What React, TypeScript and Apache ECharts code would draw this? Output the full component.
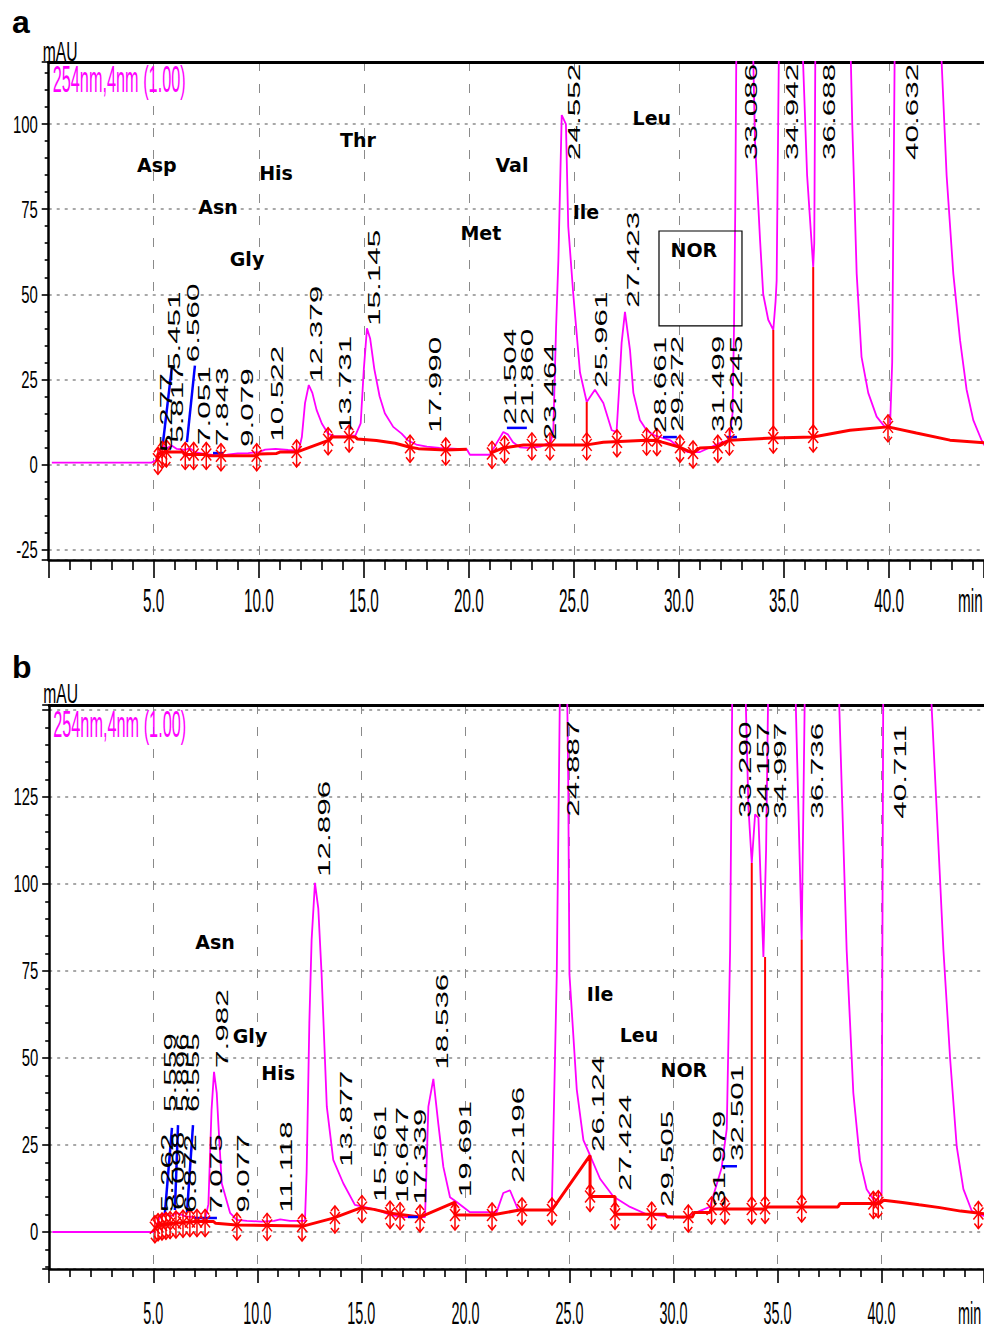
import React, { useEffect, useRef } from "react";
import * as echarts from "echarts";

type Pt = [number, number];

// ---------- Panel a ----------
const TRACE_A: Pt[] = [
  [0.15, 0.5], [4.9, 0.5], [5.1, 1.2], [5.25, 3.5], [5.45, 5.5], [5.6, 4.6], [5.85, 5.5], [6.1, 4.5], [6.5, 4.2], [6.7, 4.8],
  [7.0, 3.5], [7.5, 3.0], [8.0, 2.6], [8.5, 2.8], [9.0, 3.2], [9.5, 3.3], [10.0, 3.6], [10.3, 4.3], [10.8, 4.5], [11.4, 4.2],
  [11.9, 4.0], [12.05, 8], [12.2, 18], [12.38, 23.3], [12.55, 21], [12.75, 16], [13.0, 12], [13.3, 9], [13.6, 8.2], [14.2, 8.3],
  [14.6, 8.5], [14.85, 12], [15.0, 28], [15.15, 40], [15.3, 37], [15.5, 28], [15.75, 20], [16.0, 15], [16.4, 11], [16.8, 9],
  [17.1, 7], [17.5, 5.8], [18.0, 5.2], [18.6, 4.8], [19.9, 4.4], [20.05, 2.8], [21.0, 2.8], [21.3, 6], [21.64, 9.5], [21.85, 8.8],
  [22.1, 6.5], [22.43, 5], [22.8, 4.8], [23.4, 5.2], [23.9, 6.5], [24.02, 10], [24.15, 40], [24.26, 60], [24.42, 102.7], [24.62, 100],
  [24.73, 70], [24.97, 50], [25.29, 27], [25.61, 18.3], [26.0, 21.9], [26.4, 18], [26.8, 10], [27.03, 9.5], [27.15, 22], [27.27, 35.7],
  [27.43, 44.8], [27.67, 33.6], [27.83, 21], [28.14, 13], [28.46, 10], [28.8, 8.6], [29.2, 7.8], [29.6, 7], [30.0, 5], [30.4, 3.6],
  [31.0, 3.6], [31.5, 5], [31.95, 6.2], [32.4, 7.2], [32.55, 15], [32.62, 40], [32.68, 75], [32.74, 130], [33.5, 130], [33.62, 95],
  [33.86, 66], [34.01, 50], [34.25, 42.5], [34.49, 39.5], [34.6, 48], [34.65, 54], [34.77, 130], [35.84, 130], [36.1, 85], [36.39, 58],
  [36.44, 65], [36.5, 130], [38.14, 130], [38.25, 100], [38.46, 56], [38.69, 31.6], [39.01, 21], [39.41, 14], [39.8, 11], [40.05, 11.5],
  [40.15, 30], [40.28, 130], [42.42, 130], [42.74, 85], [43.06, 56], [43.38, 36.5], [43.69, 22], [44.01, 13], [44.41, 7], [44.6, 5], [45, 4],
];
const BASE_A1: Pt[] = [
  [5.15, 1.0], [5.2, 3.0], [5.5, 3.6], [6.4, 3.6], [6.45, 2.9], [7.5, 2.9], [7.6, 2.5], [9.9, 2.5], [10.0, 3.0], [10.85, 3.2],
  [11.0, 3.6], [11.8, 3.6], [13.38, 7.2], [13.5, 8.0], [14.6, 8.0], [14.7, 7.4], [15.6, 7.0], [16.5, 6.2], [17.2, 5.0], [17.6, 4.6],
  [18.9, 4.2], [19.9, 4.4],
];
const BASE_A2: Pt[] = [
  [21.0, 3.2], [21.64, 4.8], [22.6, 5.7], [25.61, 5.7], [26.4, 6.5], [28.46, 7.1], [28.95, 7.0], [29.2, 6.5], [30.05, 5.0], [30.67, 3.3],
  [31.0, 4.8], [31.8, 5.0], [32.4, 7.1], [34.49, 7.7], [36.39, 8.0], [38.14, 10], [39.95, 11.0], [41.3, 9.2], [42.9, 7.1], [44.6, 6.3], [45, 6.1],
];
const MARKERS_A: Pt[] = [
  [5.2, 1.5], [5.4, 3.2], [5.6, 3.6], [6.5, 2.9], [6.9, 2.9], [7.5, 2.9], [8.2, 2.5], [9.9, 2.5], [11.8, 3.6], [13.3, 7.2],
  [14.3, 8.0], [17.2, 5.0], [18.9, 4.2], [21.1, 3.2], [21.7, 4.8], [23.0, 5.7], [23.86, 5.7], [25.61, 5.7], [27.05, 6.6], [28.46, 7.1],
  [28.95, 7.0], [30.05, 5.0], [30.67, 3.3], [31.85, 5.0], [32.4, 7.1], [34.49, 7.7], [36.39, 8.0], [39.95, 11.0],
];
const DROPS_A: [number, number, number][] = [[25.61, 5.7, 18.3], [34.49, 7.7, 39.5], [36.39, 8.0, 58]];
const BLUE_A: Pt[][] = [
  [[5.44, 6.3], [5.87, 29]], [[6.58, 6.5], [6.96, 29]], [[7.82, 3.3], [8.3, 3.3]],
  [[21.81, 10.7], [22.76, 10.7]], [[29.24, 8], [29.9, 8]], [[32.28, 8], [32.76, 8]],
];
const PEAKS_A: [string, number, number][] = [
  ["5.277", 5.58, 3.6], ["5.451", 5.96, 27.7], ["5.817", 6.11, 6.3], ["6.560", 6.87, 30], ["7.051", 7.39, 5.7],
  ["7.843", 8.25, 5.4], ["9.079", 9.44, 5.1], ["10.522", 10.87, 6.6], ["12.379", 12.72, 24.2], ["13.731", 14.1, 9.5],
  ["15.145", 15.48, 40.7], ["17.990", 18.39, 9.2], ["21.504", 21.96, 11.6], ["21.860", 22.77, 11.6], ["23.464", 23.86, 7.1],
  ["24.552", 25.0, 89.5], ["25.961", 26.29, 22.5], ["27.423", 27.81, 46], ["28.661", 29.1, 9.2], ["29.272", 29.9, 9.5],
  ["31.499", 31.86, 9.5], ["32.245", 32.71, 9.5], ["33.086", 33.43, 89.5], ["34.942", 35.38, 89.5], ["36.688", 37.14, 89.5],
  ["40.632", 41.09, 89.5],
];
const AMINO_A: [string, number, number][] = [
  ["Asp", 5.15, 88], ["Asn", 8.06, 75.7], ["Gly", 9.44, 60.4], ["His", 10.82, 85.7], ["Thr", 14.72, 95.4],
  ["Met", 20.57, 68], ["Val", 22.05, 88], ["Ile", 25.57, 74.2], ["Leu", 28.71, 101.9], ["NOR", 30.71, 63],
];
const NOR_BOX_A = [29.05, 68.6, 33.0, 40.7];

// ---------- Panel b ----------
const TRACE_B: Pt[] = [
  [0.15, 0], [5.0, 0], [5.1, 1], [5.3, 4], [5.55, 5.5], [5.85, 4.5], [6.15, 5.5], [6.55, 4.5], [7.0, 4.2], [7.5, 3.8],
  [7.65, 8], [7.8, 35], [7.92, 46], [8.05, 40], [8.13, 31], [8.29, 14], [8.69, 5.5], [9.01, 3.5], [9.5, 3.2], [10.2, 3.0],
  [10.8, 3.2], [11.1, 3.6], [11.57, 3.2], [12.29, 3.2], [12.37, 17], [12.5, 60], [12.61, 84], [12.77, 100.3], [12.93, 93], [13.09, 74],
  [13.34, 36], [13.65, 20.7], [14.13, 14], [14.69, 7.8], [15.81, 6.3], [16.38, 4.9], [17.0, 4.3], [18.06, 4.3], [18.22, 36], [18.46, 44],
  [18.7, 31], [18.94, 18.7], [19.26, 10], [19.58, 8.6], [20.22, 5.7], [21.5, 5.7], [21.82, 11.2], [22.14, 12], [22.54, 6.3], [24.15, 6.3],
  [24.39, 74], [24.55, 160], [24.88, 160], [24.94, 130], [25.0, 74], [25.35, 41], [25.67, 26.4], [25.99, 22], [26.47, 15.3], [27.11, 10.2],
  [27.91, 7.2], [28.71, 5.1], [29.67, 4.6], [30.47, 4.1], [30.95, 5.3], [31.75, 7.2], [32.31, 18.4], [32.56, 29.7], [32.72, 81], [32.83, 160],
  [33.44, 160], [33.6, 122], [33.76, 106], [33.92, 120], [34.08, 119], [34.32, 79], [34.45, 110], [34.56, 160], [35.84, 160], [36.16, 84],
  [36.32, 160], [37.92, 160], [38.32, 81], [38.64, 40], [38.96, 20.5], [39.28, 12.3], [39.68, 8.7], [40.0, 11], [40.08, 160], [42.33, 160],
  [42.73, 111], [42.97, 81], [43.29, 50], [43.61, 24.5], [43.93, 12.3], [44.33, 6.1], [44.65, 5], [45, 4.5],
];
const BASE_B: Pt[] = [
  [5.05, 1.0], [5.3, 2.0], [6.0, 2.5], [7.0, 3.0], [7.9, 3.0], [8.0, 2.5], [9.0, 2.0], [12.2, 1.7], [13.65, 4.0], [15.0, 7.0],
  [15.6, 6.5], [16.4, 5.4], [17.82, 4.3], [19.5, 8.6], [19.5, 4.9], [21.28, 4.9], [22.6, 6.3], [24.15, 6.3], [25.99, 22], [25.99, 10.2],
  [27.19, 10.2], [27.19, 5.1], [29.6, 5.1], [29.7, 4.3], [30.9, 4.3], [31.0, 5.6], [31.75, 5.6], [31.8, 6.6], [34.4, 6.6], [34.5, 7.2],
  [37.9, 7.2], [38.0, 8.2], [39.9, 8.2], [40.1, 9.1], [41.0, 8.5], [41.8, 7.8], [42.8, 7.0], [43.8, 6.0], [45, 5.2],
];
const MARKERS_B: Pt[] = [
  [5.08, 1.2], [5.23, 1.8], [5.42, 2.0], [5.61, 2.2], [5.81, 2.4], [6.09, 2.6], [6.43, 2.8], [6.76, 3.0], [7.1, 3.0], [7.49, 3.0],
  [9.02, 2.0], [10.47, 1.9], [12.15, 1.7], [13.73, 4.0], [15.03, 7.0], [16.38, 5.4], [16.86, 5.0], [17.82, 4.3], [19.5, 4.9], [21.28, 4.9],
  [22.72, 6.3], [24.16, 6.3], [25.99, 10.2], [27.19, 5.1], [28.95, 5.1], [30.71, 4.3], [31.83, 6.6], [32.47, 6.6], [33.76, 6.6], [34.4, 6.8],
  [36.16, 7.2], [39.6, 8.2], [39.84, 8.4], [44.65, 5.3],
];
const DROPS_B: [number, number, number][] = [[33.76, 6.6, 106], [34.4, 6.8, 79], [36.16, 7.2, 84]];
const BLUE_B: Pt[][] = [
  [[5.56, 5.5], [5.9, 29.9]], [[6.04, 6.3], [6.19, 30.7]], [[6.62, 5.5], [6.91, 30.7]],
  [[7.0, 4.0], [8.06, 4.0]], [[17.24, 4.3], [17.72, 4.3]], [[32.33, 18.9], [33.05, 18.9]],
];
const PEAKS_B: [string, number, number][] = [
  ["5.262", 5.66, 5.7], ["5.559", 5.81, 34.5], ["5.896", 6.38, 34.5], ["6.098", 6.19, 6.3], ["6.555", 6.91, 34.5],
  ["6.872", 6.77, 5.5], ["7.075", 8.02, 5.5], ["7.982", 8.3, 47.1], ["9.077", 9.31, 5.5], ["11.118", 11.38, 5.5],
  ["12.896", 13.2, 102], ["13.877", 14.26, 18.7], ["15.561", 15.9, 8.6], ["16.647", 16.95, 8.3], ["17.339", 17.82, 7.8],
  ["18.536", 18.88, 46.6], ["19.691", 19.98, 10], ["22.196", 22.53, 14.1], ["24.887", 25.17, 119.3], ["26.124", 26.37, 23],
  ["27.424", 27.67, 11.8], ["29.505", 29.69, 7.2], ["31.979", 32.19, 7.2], ["32.501", 33.05, 20.4], ["33.290", 33.44, 119],
  ["34.157", 34.3, 118.7], ["34.997", 35.12, 118.7], ["36.736", 36.9, 118.7], ["40.711", 40.88, 118.7],
];
const AMINO_B: [string, number, number][] = [
  ["Asn", 7.97, 83.3], ["Gly", 9.65, 56.3], ["His", 11.0, 45.7], ["Ile", 26.47, 68.4], ["Leu", 28.34, 56.6], ["NOR", 30.5, 46.6],
];

// ---------- axes ----------
const X_TICKS = [5, 10, 15, 20, 25, 30, 35, 40];
const X_RANGE_A = [0, 44.52];
const X_RANGE_B = [0, 44.92];
const Y_TICKS_A = [-25, 0, 25, 50, 75, 100];
const Y_TICKS_B = [0, 25, 50, 75, 100, 125];
const Y_RANGE_A = [-28.15, 118.3];
const Y_RANGE_B = [-10.63, 151.4];

const MAGENTA = "#ff00ff";
const RED = "#ff0000";
const BLUE = "#0000ff";
const NUM_FONT = "'Liberation Sans', Arial, sans-serif";

function xAxes(gi: number, range: number[], majorLen: number, minorLen: number) {
  const base = { type: "value", gridIndex: gi, min: range[0], max: range[1], minInterval: 5, maxInterval: 5, splitNumber: 9 };
  return [
    {
      ...base, position: "bottom",
      axisLine: { show: true, onZero: false, lineStyle: { color: "#000", width: 2.5 } },
      axisTick: { show: true, length: majorLen, lineStyle: { color: "#000", width: 1.6 } },
      minorTick: { show: true, splitNumber: 5, length: minorLen, lineStyle: { color: "#000", width: 1.6 } },
      axisLabel: { show: false },
      splitLine: { show: true, lineStyle: { color: "#8a8a8a", width: 1, type: [9, 13] } },
      minorSplitLine: { show: false },
    },
    {
      ...base, position: "top",
      axisLine: { show: true, onZero: false, lineStyle: { color: "#000", width: 3 } },
      axisTick: { show: false }, axisLabel: { show: false }, splitLine: { show: false },
    },
  ];
}
function yAxis(gi: number, range: number[]) {
  return {
    type: "value", gridIndex: gi, min: range[0], max: range[1], minInterval: 25, maxInterval: 25, splitNumber: 6,
    axisLine: { show: true, onZero: false, lineStyle: { color: "#000", width: 2.5 } },
    axisTick: { show: true, length: 7, lineStyle: { color: "#000", width: 1.6 } },
    minorTick: { show: true, splitNumber: 5, length: 4, lineStyle: { color: "#000", width: 1.6 } },
    axisLabel: { show: false },
    splitLine: { show: true, lineStyle: { color: "#a8a8a8", width: 2, type: [3, 5] } },
  };
}
function line(gi: number, data: Pt[], color: string, width: number, z: number) {
  return {
    type: "line", xAxisIndex: gi * 2, yAxisIndex: gi, data, symbol: "none", showSymbol: false,
    lineStyle: { color, width }, z, silent: true, clip: true,
  };
}
function markerSeries(gi: number, marks: Pt[]) {
  return {
    type: "custom", xAxisIndex: gi * 2, yAxisIndex: gi, data: marks, z: 5, silent: true,
    encode: { x: 0, y: 1 },
    renderItem: (_p: any, api: any) => {
      const [x, y] = api.coord([api.value(0), api.value(1)]);
      const st = { stroke: RED, lineWidth: 1.5, fill: "none" };
      return {
        type: "group",
        children: [
          { type: "line", shape: { x1: x, y1: y - 12, x2: x, y2: y + 15 }, style: st },
          { type: "line", shape: { x1: x - 5, y1: y - 6, x2: x + 5, y2: y + 6 }, style: st },
          { type: "line", shape: { x1: x + 5, y1: y - 6, x2: x - 5, y2: y + 6 }, style: st },
          { type: "polyline", shape: { points: [[x - 4, y + 10], [x, y + 15], [x + 4, y + 10]] }, style: st },
          { type: "polyline", shape: { points: [[x - 4, y - 7], [x, y - 12], [x + 4, y - 7]] }, style: st },
        ],
      };
    },
  };
}
function seriesFor(gi: number, trace: Pt[], bases: Pt[][], drops: [number, number, number][], blues: Pt[][], marks: Pt[]) {
  const s: any[] = [line(gi, trace, MAGENTA, 1.8, 2)];
  bases.forEach((b) => s.push(line(gi, b, RED, 3, 3)));
  drops.forEach((d) => s.push(line(gi, [[d[0], d[1]], [d[0], d[2]]], RED, 2, 3)));
  blues.forEach((b) => s.push(line(gi, b, BLUE, 2.5, 4)));
  s.push(markerSeries(gi, marks));
  return s;
}

export default function App() {
  const ref = useRef<HTMLDivElement>(null);
  useEffect(() => {
    const chart = echarts.init(ref.current!, null, { renderer: "svg" });
    chart.setOption({
      animation: false,
      backgroundColor: "#fff",
      grid: [
        { left: 48.7, top: 62, right: 0, height: 498, containLabel: false },
        { left: 49.2, top: 705, right: 0, height: 564, containLabel: false },
      ],
      xAxis: [...xAxes(0, X_RANGE_A, 18, 10), ...xAxes(1, X_RANGE_B, 14, 8)],
      yAxis: [yAxis(0, Y_RANGE_A), yAxis(1, Y_RANGE_B)],
      series: [
        ...seriesFor(0, TRACE_A, [BASE_A1, BASE_A2], DROPS_A, BLUE_A, MARKERS_A),
        ...seriesFor(1, TRACE_B, [BASE_B], DROPS_B, BLUE_B, MARKERS_B),
      ],
    });

    const P = (gi: number, t: number, v: number) =>
      chart.convertToPixel({ xAxisIndex: gi * 2, yAxisIndex: gi } as any, [t, v]) as unknown as number[];
    const g: any[] = [];
    const text = (x: number, y: number, s: string, o: any = {}) =>
      g.push({
        type: "text", x, y, rotation: o.rotation || 0, scaleX: o.scaleX || 1, scaleY: o.scaleY || 1, z: 20, silent: true,
        style: {
          text: s, fill: o.fill || "#000", fontSize: o.fontSize || 16, fontFamily: o.fontFamily || NUM_FONT,
          fontWeight: o.fontWeight || "normal", align: o.align || "left", verticalAlign: o.verticalAlign || "middle",
        },
      });

    const panels = [
      { gi: 0, peaks: PEAKS_A, amino: AMINO_A, yTicks: Y_TICKS_A, letter: "a", letterY: 22, xLabY: 600, xFont: 34, mauY: 52, wlY: 79 },
      { gi: 1, peaks: PEAKS_B, amino: AMINO_B, yTicks: Y_TICKS_B, letter: "b", letterY: 667, xLabY: 1313, xFont: 32, mauY: 694, wlY: 724 },
    ];
    panels.forEach((p) => {
      p.peaks.forEach(([s, t, v]) => {
        const [x, y] = P(p.gi, t, v);
        text(x, y, s, { rotation: Math.PI / 2, scaleX: 1.85, fontSize: 17 });
      });
      p.amino.forEach(([s, t, v]) => {
        const [x, y] = P(p.gi, t, v);
        text(x, y, s, { fontSize: 19, fontWeight: "bold", fontFamily: "'DejaVu Sans', Verdana, sans-serif", align: "center" });
      });
      p.yTicks.forEach((v) => {
        const [x, y] = P(p.gi, 0, v);
        text(x - 11, y, String(v), { fontSize: 24, scaleX: 0.62, align: "right" });
      });
      X_TICKS.forEach((t) => {
        const [x] = P(p.gi, t, 0);
        text(x, p.xLabY, t.toFixed(1), { fontSize: p.xFont, scaleX: 0.45, align: "center" });
      });
      const [x0] = P(p.gi, 0, 0);
      text(958, p.xLabY, "min", { fontSize: p.xFont, scaleX: 0.45 });
      text(x0 - 6, p.mauY, "mAU", { fontSize: 27, scaleX: 0.58 });
      text(x0 + 4, p.wlY, "254nm,4nm (1.00)", { fontSize: 37, scaleX: 0.44, fill: MAGENTA });
      text(12, p.letterY, p.letter, { fontSize: 32, fontWeight: "bold", fontFamily: "'Liberation Sans', Arial, sans-serif" });
    });
    const [bx1, by1] = P(0, NOR_BOX_A[0], NOR_BOX_A[1]);
    const [bx2, by2] = P(0, NOR_BOX_A[2], NOR_BOX_A[3]);
    g.push({
      type: "rect", z: 19, silent: true,
      shape: { x: bx1, y: by1, width: bx2 - bx1, height: by2 - by1 },
      style: { fill: "none", stroke: "#000", lineWidth: 1.2 },
    });
    chart.setOption({ graphic: g });
    return () => chart.dispose();
  }, []);
  return (
    <div
      ref={ref}
      style={{ position: "absolute", left: 0, top: 0, width: 984, height: 1332, background: "#fff" }}
    />
  );
}
